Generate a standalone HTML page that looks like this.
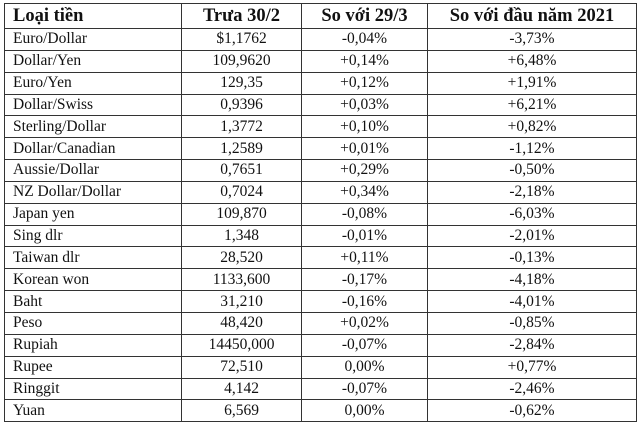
<!DOCTYPE html>
<html><head><meta charset="utf-8"><style>
html,body{margin:0;padding:0;background:#fff;width:640px;height:424px;overflow:hidden}
table{position:absolute;left:4px;top:3px;border-collapse:collapse;font-family:"Liberation Serif",serif;color:#111}
td,th{border:1.5px solid #333;padding:0;height:20.85px;font-size:15.5px;text-align:center;line-height:18px}
th{height:24px;font-size:18.5px;font-weight:bold}
td:first-child,th:first-child{text-align:left;padding-left:8px}
</style></head><body>
<table>
<colgroup><col style="width:177px"><col style="width:120px"><col style="width:126px"><col style="width:209px"></colgroup>
<thead><tr><th>Loại tiền</th><th>Trưa 30/2</th><th>So với 29/3</th><th>So với đầu năm 2021</th></tr></thead>
<tbody>
<tr><td>Euro/Dollar</td><td>$1,1762</td><td>-0,04%</td><td>-3,73%</td></tr>
<tr><td>Dollar/Yen</td><td>109,9620</td><td>+0,14%</td><td>+6,48%</td></tr>
<tr><td>Euro/Yen</td><td>129,35</td><td>+0,12%</td><td>+1,91%</td></tr>
<tr><td>Dollar/Swiss</td><td>0,9396</td><td>+0,03%</td><td>+6,21%</td></tr>
<tr><td>Sterling/Dollar</td><td>1,3772</td><td>+0,10%</td><td>+0,82%</td></tr>
<tr><td>Dollar/Canadian</td><td>1,2589</td><td>+0,01%</td><td>-1,12%</td></tr>
<tr><td>Aussie/Dollar</td><td>0,7651</td><td>+0,29%</td><td>-0,50%</td></tr>
<tr><td>NZ Dollar/Dollar</td><td>0,7024</td><td>+0,34%</td><td>-2,18%</td></tr>
<tr><td>Japan yen</td><td>109,870</td><td>-0,08%</td><td>-6,03%</td></tr>
<tr><td>Sing dlr</td><td>1,348</td><td>-0,01%</td><td>-2,01%</td></tr>
<tr><td>Taiwan dlr</td><td>28,520</td><td>+0,11%</td><td>-0,13%</td></tr>
<tr><td>Korean won</td><td>1133,600</td><td>-0,17%</td><td>-4,18%</td></tr>
<tr><td>Baht</td><td>31,210</td><td>-0,16%</td><td>-4,01%</td></tr>
<tr><td>Peso</td><td>48,420</td><td>+0,02%</td><td>-0,85%</td></tr>
<tr><td>Rupiah</td><td>14450,000</td><td>-0,07%</td><td>-2,84%</td></tr>
<tr><td>Rupee</td><td>72,510</td><td>0,00%</td><td>+0,77%</td></tr>
<tr><td>Ringgit</td><td>4,142</td><td>-0,07%</td><td>-2,46%</td></tr>
<tr><td>Yuan</td><td>6,569</td><td>0,00%</td><td>-0,62%</td></tr>
</tbody></table>
</body></html>
